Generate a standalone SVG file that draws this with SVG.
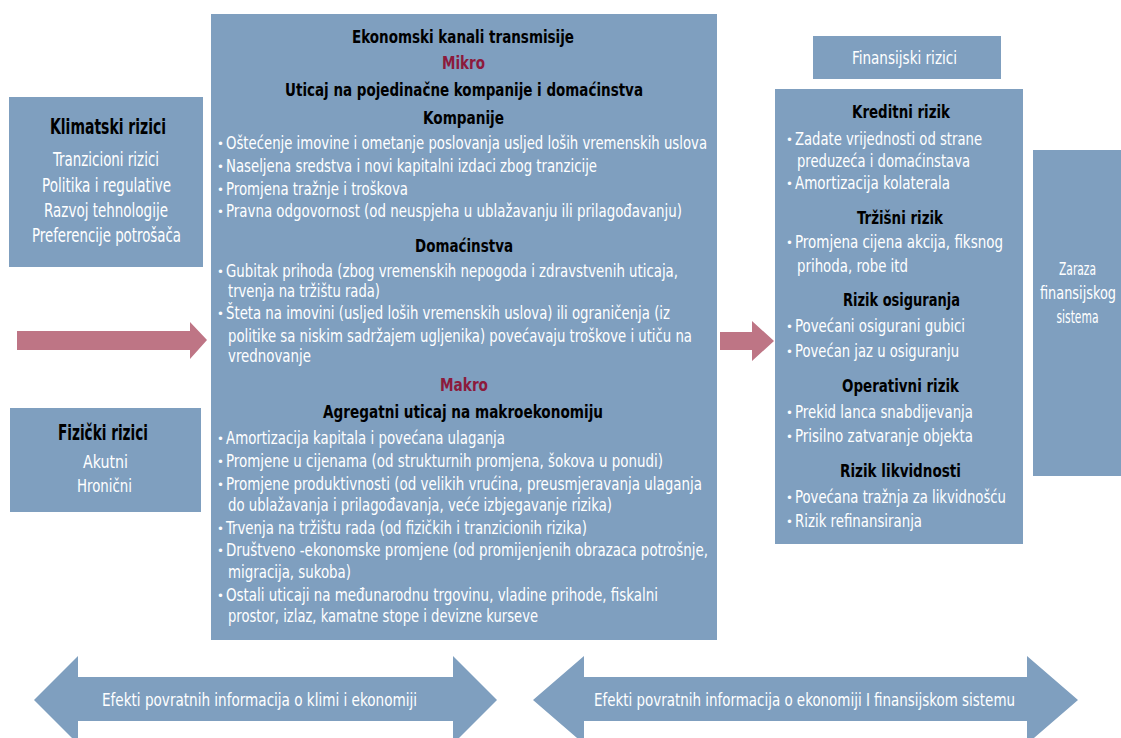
<svg xmlns="http://www.w3.org/2000/svg" width="1121" height="738" viewBox="0 0 1121 738">
<style>
text{font-family:"Liberation Sans Narrow","DejaVu Sans Condensed","Liberation Sans",sans-serif;}
.box{fill:#7f9fbf;}
.pink{fill:#be7585;}
.h{font-weight:bold;fill:#000;font-size:18px;text-anchor:middle;}
.hb{font-weight:bold;fill:#000;font-size:20.5px;text-anchor:middle;}
.red{font-weight:bold;fill:#8c1a3c;font-size:18px;text-anchor:middle;}
.w{fill:#fff;font-size:17px;}
.w18{fill:#fff;font-size:18px;}
.b{fill:#fff;font-size:13px;}
.wc{fill:#fff;font-size:18px;text-anchor:middle;}
.wl{fill:#fff;font-size:19px;text-anchor:middle;}
</style>
<rect width="1121" height="738" fill="#fff"/>
<g id="klimatski">
<rect class="box" x="9" y="97" width="194" height="170"/>
<text class="hb" x="108" y="134" textLength="116" lengthAdjust="spacingAndGlyphs">Klimatski rizici</text>
<text class="wl" x="106" y="166" textLength="106" lengthAdjust="spacingAndGlyphs">Tranzicioni rizici</text>
<text class="wl" x="106.5" y="192" textLength="129" lengthAdjust="spacingAndGlyphs">Politika i regulative</text>
<text class="wl" x="106" y="217" textLength="124" lengthAdjust="spacingAndGlyphs">Razvoj tehnologije</text>
<text class="wl" x="106.5" y="242" textLength="149" lengthAdjust="spacingAndGlyphs">Preferencije potrošača</text>
</g>
<g id="fizicki">
<rect class="box" x="10" y="408" width="191" height="104"/>
<text class="hb" x="103" y="440" textLength="90" lengthAdjust="spacingAndGlyphs">Fizički rizici</text>
<text class="wc" x="105.5" y="468" textLength="45" lengthAdjust="spacingAndGlyphs">Akutni</text>
<text class="wc" x="104.5" y="492" textLength="55" lengthAdjust="spacingAndGlyphs">Hronični</text>
</g>
<g id="ekonomski">
<rect class="box" x="211" y="14" width="506" height="626"/>
<text class="h" x="463" y="43" textLength="222" lengthAdjust="spacingAndGlyphs">Ekonomski kanali transmisije</text>
<text class="red" x="463.5" y="69" textLength="43" lengthAdjust="spacingAndGlyphs">Mikro</text>
<text class="h" x="464" y="96" textLength="358" lengthAdjust="spacingAndGlyphs">Uticaj na pojedinačne kompanije i domaćinstva</text>
<text class="h" x="463.5" y="124" textLength="81" lengthAdjust="spacingAndGlyphs">Kompanije</text>
<text class="b" x="217" y="148">•</text>
<text class="w" x="226" y="149" textLength="481" lengthAdjust="spacingAndGlyphs">Oštećenje imovine i ometanje poslovanja usljed loših vremenskih uslova</text>
<text class="b" x="217" y="171">•</text>
<text class="w" x="226" y="172" textLength="371" lengthAdjust="spacingAndGlyphs">Naseljena sredstva i novi kapitalni izdaci zbog tranzicije</text>
<text class="b" x="217" y="194">•</text>
<text class="w" x="226" y="195" textLength="182" lengthAdjust="spacingAndGlyphs">Promjena tražnje i troškova</text>
<text class="b" x="217" y="216">•</text>
<text class="w" x="226" y="217" textLength="456" lengthAdjust="spacingAndGlyphs">Pravna odgovornost (od neuspjeha u ublažavanju ili prilagođavanju)</text>
<text class="h" x="464" y="252" textLength="98" lengthAdjust="spacingAndGlyphs">Domaćinstva</text>
<text class="b" x="217" y="276">•</text>
<text class="w" x="226" y="277" textLength="452" lengthAdjust="spacingAndGlyphs">Gubitak prihoda (zbog vremenskih nepogoda i zdravstvenih uticaja,</text>
<text class="w" x="228" y="297" textLength="152" lengthAdjust="spacingAndGlyphs">trvenja na tržištu rada)</text>
<text class="b" x="217" y="318">•</text>
<text class="w" x="226" y="319" textLength="444" lengthAdjust="spacingAndGlyphs">Šteta na imovini (usljed loših vremenskih uslova) ili ograničenja (iz</text>
<text class="w" x="228" y="342" textLength="464" lengthAdjust="spacingAndGlyphs">politike sa niskim sadržajem ugljenika) povećavaju troškove i utiču na</text>
<text class="w" x="228" y="362" textLength="83" lengthAdjust="spacingAndGlyphs">vrednovanje</text>
<text class="red" x="464" y="391" textLength="48" lengthAdjust="spacingAndGlyphs">Makro</text>
<text class="h" x="463" y="418" textLength="280" lengthAdjust="spacingAndGlyphs">Agregatni uticaj na makroekonomiju</text>
<text class="b" x="217" y="443">•</text>
<text class="w" x="226" y="444" textLength="279" lengthAdjust="spacingAndGlyphs">Amortizacija kapitala i povećana ulaganja</text>
<text class="b" x="217" y="466">•</text>
<text class="w" x="226" y="467" textLength="437" lengthAdjust="spacingAndGlyphs">Promjene u cijenama (od strukturnih promjena, šokova u ponudi)</text>
<text class="b" x="217" y="489">•</text>
<text class="w" x="226" y="490" textLength="476" lengthAdjust="spacingAndGlyphs">Promjene produktivnosti (od velikih vrućina, preusmjeravanja ulaganja</text>
<text class="w" x="228" y="511" textLength="384" lengthAdjust="spacingAndGlyphs">do ublažavanja i prilagođavanja, veće izbjegavanje rizika)</text>
<text class="b" x="217" y="533">•</text>
<text class="w" x="226" y="534" textLength="361" lengthAdjust="spacingAndGlyphs">Trvenja na tržištu rada (od fizičkih i tranzicionih rizika)</text>
<text class="b" x="217" y="555">•</text>
<text class="w" x="226" y="556" textLength="482" lengthAdjust="spacingAndGlyphs">Društveno -ekonomske promjene (od promijenjenih obrazaca potrošnje,</text>
<text class="w" x="228" y="578" textLength="123" lengthAdjust="spacingAndGlyphs">migracija, sukoba)</text>
<text class="b" x="217" y="600">•</text>
<text class="w" x="226" y="601" textLength="432" lengthAdjust="spacingAndGlyphs">Ostali uticaji na međunarodnu trgovinu, vladine prihode, fiskalni</text>
<text class="w" x="228" y="622" textLength="310" lengthAdjust="spacingAndGlyphs">prostor, izlaz, kamatne stope i devizne kurseve</text>
</g>
<g id="finansijski-naslov">
<rect class="box" x="813" y="36" width="188" height="43"/>
<text class="wc" x="904.5" y="64" textLength="105" lengthAdjust="spacingAndGlyphs">Finansijski rizici</text>
</g>
<g id="finansijski">
<rect class="box" x="775" y="89" width="248" height="455"/>
<text class="h" x="901" y="118" textLength="98" lengthAdjust="spacingAndGlyphs">Kreditni rizik</text>
<text class="b" x="786" y="144">•</text>
<text class="w18" x="795" y="145" textLength="187" lengthAdjust="spacingAndGlyphs">Zadate vrijednosti od strane</text>
<text class="w18" x="797" y="167" textLength="173" lengthAdjust="spacingAndGlyphs">preduzeća i domaćinstava</text>
<text class="b" x="786" y="188">•</text>
<text class="w18" x="795" y="189" textLength="155" lengthAdjust="spacingAndGlyphs">Amortizacija kolaterala</text>
<text class="h" x="900" y="224" textLength="86" lengthAdjust="spacingAndGlyphs">Tržišni rizik</text>
<text class="b" x="786" y="247">•</text>
<text class="w18" x="795" y="248" textLength="208" lengthAdjust="spacingAndGlyphs">Promjena cijena akcija, fiksnog</text>
<text class="w18" x="797" y="272" textLength="111" lengthAdjust="spacingAndGlyphs">prihoda, robe itd</text>
<text class="h" x="901.5" y="306" textLength="117" lengthAdjust="spacingAndGlyphs">Rizik osiguranja</text>
<text class="b" x="786" y="331">•</text>
<text class="w18" x="795" y="332" textLength="170" lengthAdjust="spacingAndGlyphs">Povećani osigurani gubici</text>
<text class="b" x="786" y="356">•</text>
<text class="w18" x="795" y="357" textLength="164" lengthAdjust="spacingAndGlyphs">Povećan jaz u osiguranju</text>
<text class="h" x="900.5" y="392" textLength="117" lengthAdjust="spacingAndGlyphs">Operativni rizik</text>
<text class="b" x="786" y="417">•</text>
<text class="w18" x="795" y="418" textLength="178" lengthAdjust="spacingAndGlyphs">Prekid lanca snabdijevanja</text>
<text class="b" x="786" y="441">•</text>
<text class="w18" x="795" y="442" textLength="178" lengthAdjust="spacingAndGlyphs">Prisilno zatvaranje objekta</text>
<text class="h" x="900.5" y="477" textLength="121" lengthAdjust="spacingAndGlyphs">Rizik likvidnosti</text>
<text class="b" x="786" y="502">•</text>
<text class="w18" x="795" y="503" textLength="211" lengthAdjust="spacingAndGlyphs">Povećana tražnja za likvidnošću</text>
<text class="b" x="786" y="526">•</text>
<text class="w18" x="795" y="527" textLength="127" lengthAdjust="spacingAndGlyphs">Rizik refinansiranja</text>
</g>
<g id="zaraza">
<rect class="box" x="1033" y="150" width="90" height="326"/>
<text class="wc" x="1077.5" y="275" textLength="37" lengthAdjust="spacingAndGlyphs">Zaraza</text>
<text class="wc" x="1078" y="299" textLength="76" lengthAdjust="spacingAndGlyphs">finansijskog</text>
<text class="wc" x="1077.5" y="323" textLength="42" lengthAdjust="spacingAndGlyphs">sistema</text>
</g>
<g id="connectors">
<polygon class="pink" points="17,331 190,331 190,322 207,340 190,359 190,350 17,350"/>
<polygon class="pink" points="720,332 752,332 752,321 774,341 752,361 752,350 720,350"/>
<polygon class="box" points="34,700 78,656 78,677 453,677 453,656 497,700 453,744 453,721 78,721 78,744"/>
<polygon class="box" points="533,700 584,656 584,677 1027,677 1027,656 1078,700 1027,744 1027,721 584,721 584,744"/>
<text class="wc" x="259.5" y="706" textLength="315" lengthAdjust="spacingAndGlyphs">Efekti povratnih informacija o klimi i ekonomiji</text>
<text class="wc" x="804.5" y="706" textLength="421" lengthAdjust="spacingAndGlyphs">Efekti povratnih informacija o ekonomiji I finansijskom sistemu</text>
</g>
</svg>
